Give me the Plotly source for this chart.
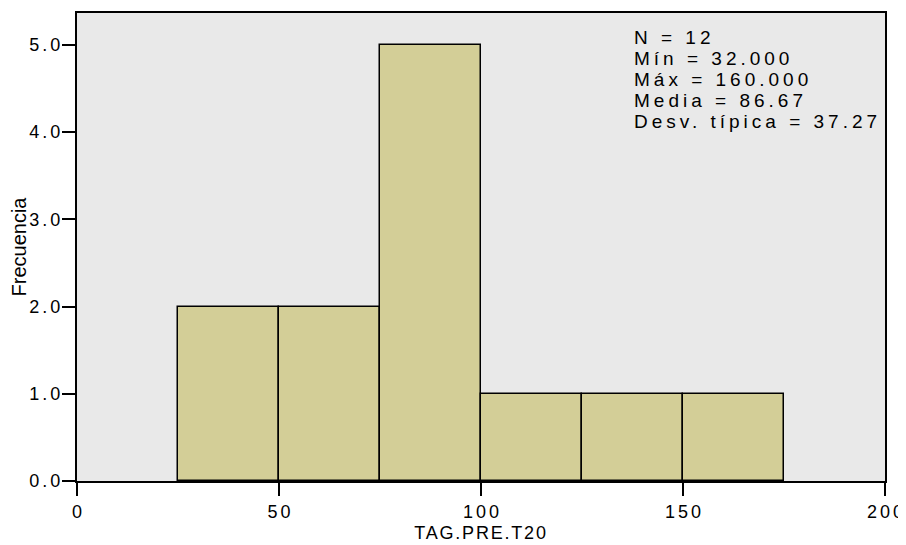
import plotly.graph_objects as go

bin_starts = [25, 50, 75, 100, 125, 150]
bin_width = 25
counts = [2, 2, 5, 1, 1, 1]
x_ticks = [0, 50, 100, 150, 200]
y_ticks = [0, 1, 2, 3, 4, 5]
y_tick_labels = ["0.0", "1.0", "2.0", "3.0", "4.0", "5.0"]
stats_lines = ["N = 12", "Mín = 32.000", "Máx = 160.000", "Media = 86.67", "Desv. típica = 37.27"]

centers = [s + bin_width / 2 for s in bin_starts]

fig = go.Figure()
fig.add_trace(go.Bar(
    x=centers, y=counts, width=[bin_width] * len(counts),
    marker=dict(color="#d3ce97", line=dict(color="black", width=1.5)),
    hoverinfo="skip",
))

font = "Liberation Sans, Arial, Helvetica, sans-serif"
OFF = 8  # default page margin
W, H = 906 - OFF, 545 - OFF
L, R, T, B = 77 - OFF, 21, 11 - OFF, 64
fig.update_layout(
    width=W, height=H,
    margin=dict(l=L, r=R, t=T, b=B),
    paper_bgcolor="white", plot_bgcolor="#e9e9e9",
    showlegend=False,
    font=dict(family=font, size=18, color="black"),
    xaxis=dict(range=[0, 200], tickvals=x_ticks, ticks="outside", ticklen=13, tickwidth=1.5,
               tickcolor="black", showline=True, linecolor="black", linewidth=2, mirror=True,
               showgrid=False, zeroline=False, tickfont=dict(size=18),
               title=dict(text="TAG.PRE.T20", font=dict(size=18), standoff=6)),
    yaxis=dict(range=[0, 5.365], tickvals=y_ticks, ticktext=y_tick_labels, ticks="outside",
               ticklen=13, tickwidth=1.5, tickcolor="black", showline=True, linecolor="black",
               linewidth=2, mirror=True, showgrid=False, zeroline=False, tickfont=dict(size=18),
               title=dict(text="Frecuencia", font=dict(size=20), standoff=3)),
    bargap=0,
)

plot_h = H - T - B
for i, line in enumerate(stats_lines):
    baseline = 42 - OFF + 21 * i  # in figure pixel coords
    ymid = baseline - 6.5
    fig.add_annotation(
        xref="paper", yref="paper", x=(632 - OFF - L) / (W - L - R),
        y=(H - B - ymid) / plot_h,
        xanchor="left", yanchor="middle", align="left", showarrow=False,
        text=line, font=dict(size=19, family=font, color="black"),
    )

post = """
var s = document.createElement('style');
s.textContent = '.xtick text, .ytick text {letter-spacing: 3px;}' +
  '.g-xtitle text {letter-spacing: 1.8px;}' +
  '.annotation-text {letter-spacing: 4px;}';
document.head.appendChild(s);
document.querySelectorAll('.ytick text').forEach(function(t){ t.setAttribute('dx', '5'); });
document.querySelectorAll('.xtick text').forEach(function(t){ t.setAttribute('dx', '1.5'); });
"""
fig.write_html("out.html", post_script=post, config={"displayModeBar": False})
